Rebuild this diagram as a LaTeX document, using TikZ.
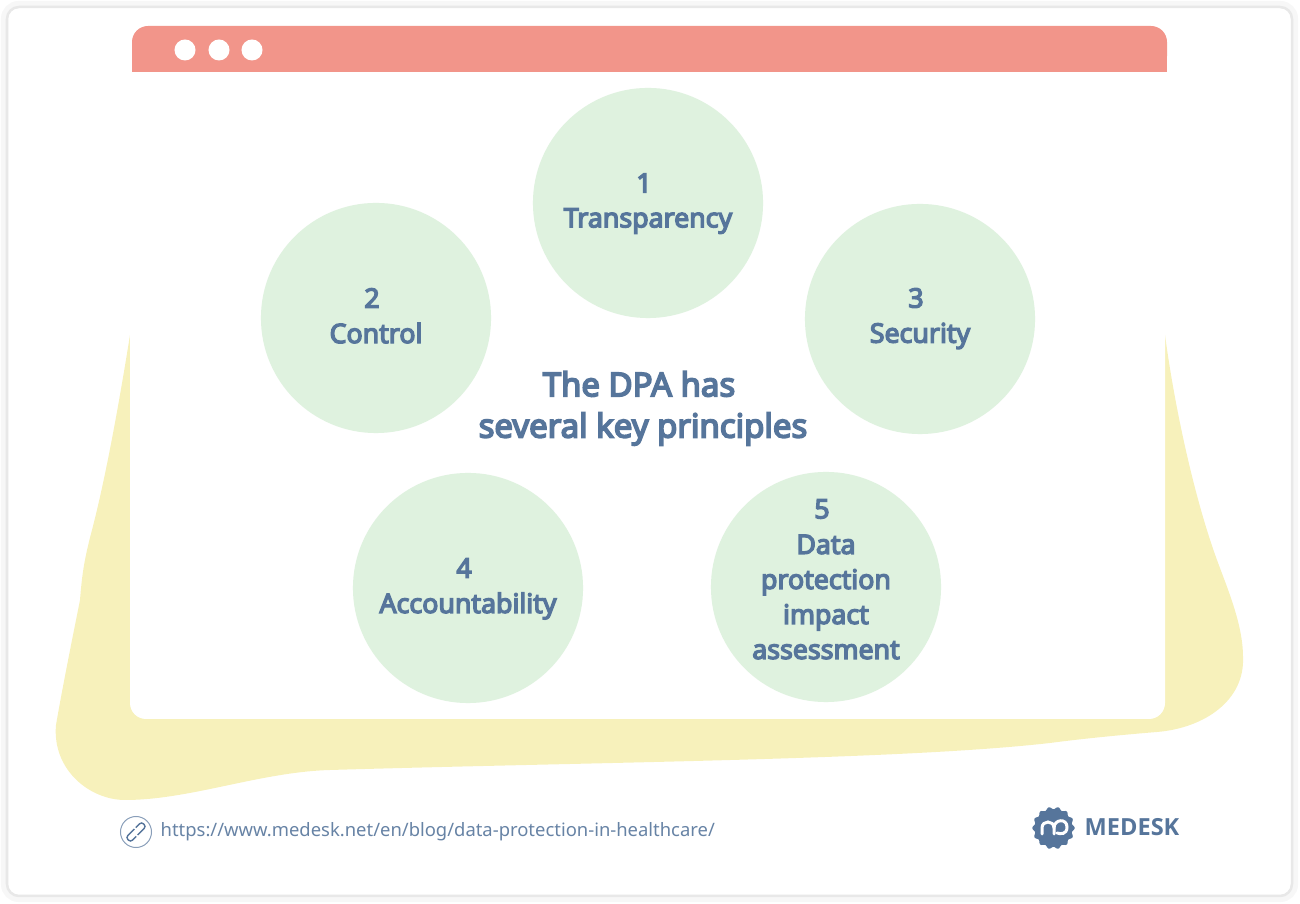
\documentclass[tikz,border=0pt]{standalone}
\usepackage{fontspec}
\setmainfont{Noto Sans}
\newfontfamily\semifont[FakeBold=5]{Noto Sans}
\newfontfamily\brandfont{Open Sans}
\definecolor{inkblue}{HTML}{56759B}
\definecolor{barpink}{HTML}{F2958A}
\definecolor{blobyellow}{HTML}{F7F1BB}
\definecolor{discgreen}{HTML}{DFF2DF}
\tikzset{
  disc/.style={circle,fill=discgreen,minimum size=2.3cm,inner sep=0pt},
  dot/.style={circle,fill=white,minimum size=0.21cm,inner sep=0pt},
  tag/.style={text=inkblue,font=\semifont\fontsize{7.6}{9.96}\selectfont,align=center,inner sep=0pt},
  headline/.style={text=inkblue,font=\semifont\fontsize{9.37}{12}\selectfont,align=center,inner sep=0pt},
  chain/.style={inkblue,line width=0.014cm,rounded corners=0.025cm},
}
\begin{document}
\begin{tikzpicture}[x=0.01cm,y=-0.01cm]
    \useasboundingbox (0,0) rectangle (1300,904);
    % Drawing page edge
    \draw [line width=0.07cm,black!3,rounded corners=0.14cm] (4.5,4.5) rectangle (1294.5,898.5);
    \draw [line width=0.025cm,black!9,rounded corners=0.12cm] (7,7) rectangle (1292,896);

    % Drawing yellow blob
    \fill [blobyellow] (130,335) .. controls (118,410) and (105,480) .. (92,530)
        .. controls (84,560) and (82,575) .. (80,600)
        .. controls (72,640) and (62,690) .. (56,725)
        .. controls (52,770) and (90,800) .. (125,800)
        .. controls (190,800) and (260,772) .. (330,770)
        .. controls (600,762) and (900,760) .. (1050,743)
        .. controls (1080,739) and (1120,735) .. (1157,732)
        .. controls (1205,728) and (1245,700) .. (1243,657)
        .. controls (1243,625) and (1228,590) .. (1217,560)
        .. controls (1195,500) and (1175,410) .. (1165,335) -- cycle;

    % Drawing window
    \fill [white,rounded corners=0.16cm] (130,60) rectangle (1165,719);
    \fill [barpink,rounded corners=0.16cm] (132,26) -- (1167,26) -- (1167,72) -- (132,72) -- cycle;
    \fill [barpink] (132,50) rectangle (1167,72);
    \node [dot] (dotone) at (185,50) {};
    \node [dot] (dottwo) at (219,50) {};
    \node [dot] (dotthree) at (252,50) {};

    % Marking discs
    \node [disc] (discone) at (648,203) {};
    \node [disc] (disctwo) at (376,318) {};
    \node [disc] (discthree) at (920,319) {};
    \node [disc] (discfour) at (468,588) {};
    \node [disc] (discfive) at (826,587) {};

    % Marking disc texts
    \node [tag] (numone) at (644,183) {1};
    \node [tag] (nameone) at (648,221) {Transparency};
    \node [tag] (numtwo) at (372,298) {2};
    \node [tag] (nametwo) at (376,333) {Control};
    \node [tag] (numthree) at (916,298) {3};
    \node [tag] (namethree) at (920,336) {Security};
    \node [tag] (numfour) at (464,568) {4};
    \node [tag] (namefour) at (468,606) {Accountability};
    \node [tag] (numfive) at (822,509) {5};
    \node [tag] (namefive) at (826,597) {Data\\protection\\impact\\assessment};

    % Marking centre text
    \node [headline] (titleone) at (639,384) {The DPA has};
    \node [headline] (titletwo) at (643,429) {several key principles};

    % Drawing link icon
    \node [circle,draw=inkblue!70,line width=0.01cm,minimum size=0.31cm,inner sep=0pt] (linkicon) at (136,832) {};
    \begin{scope}[shift={(linkicon.center)},rotate=45]
        \draw [chain] (-1,3.2) -- (11,3.2) -- (11,-3.2) -- (3,-3.2);
        \draw [chain] (1,-3.2) -- (-11,-3.2) -- (-11,3.2) -- (-3,3.2);
    \end{scope}
    \node [anchor=west,text=inkblue!90,font=\fontsize{5.24}{6}\selectfont,inner sep=0pt] (linktext) at (160,832) {https://www.medesk.net/en/blog/data-protection-in-healthcare/};

    % Drawing logo
    \fill [inkblue] plot [domain=0:360,samples=145,smooth] ({1053.5+(20+1.2*cos(14*\x))*cos(\x)},{828+(20+1.2*cos(14*\x))*sin(\x)});
    \draw [white,line width=0.03cm,line cap=round] (1042,834) -- (1042,828) .. controls (1042,820) and (1054,820) .. (1054,828) -- (1054,834);
    \draw [white,line width=0.03cm,line cap=round] (1054,828) .. controls (1054,819) and (1067,818) .. (1067,827) .. controls (1067,835) and (1060,834) .. (1057,833);
    \node [anchor=west,text=inkblue,font=\brandfont\bfseries\fontsize{6.7}{8}\selectfont,inner sep=0pt] (logotext) at (1084,827) {MEDESK};
\end{tikzpicture}
\end{document}
